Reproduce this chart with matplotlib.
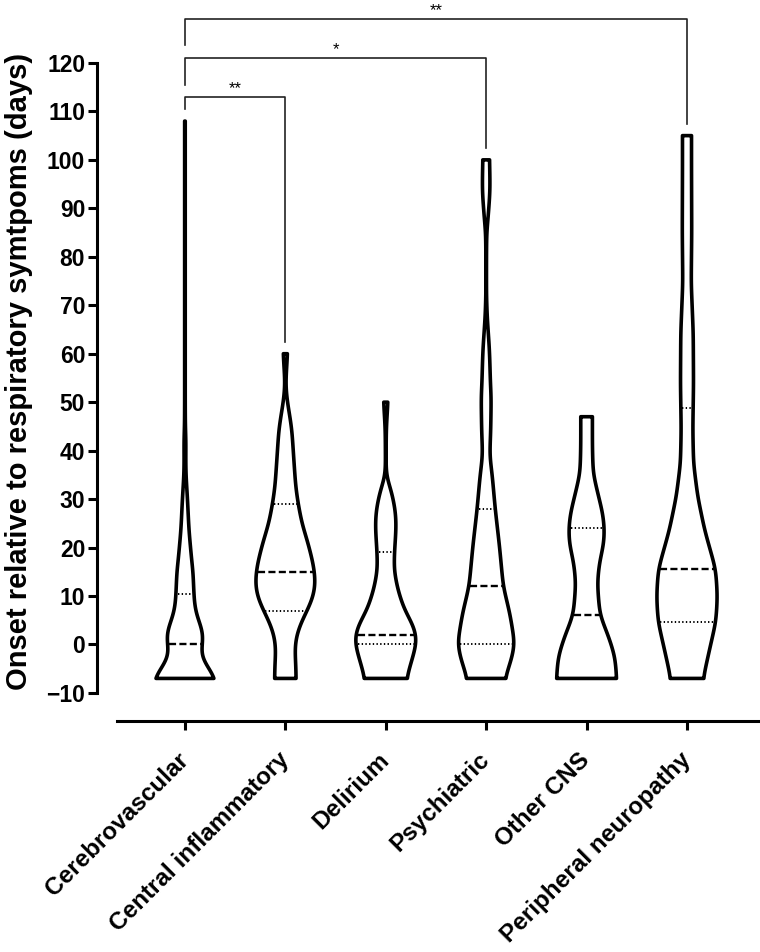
import numpy as np
import matplotlib.pyplot as plt

plt.rcParams['font.family'] = ['Liberation Sans', 'DejaVu Sans']

groups = ['Cerebrovascular', 'Central inflammatory', 'Delirium',
          'Psychiatric', 'Other CNS', 'Peripheral neuropathy']
medians = [0, 15, 2, 12, 6, 15.5]
q1 = [-7, 7, 0, 0, -7, 4.7]
q3 = [10.5, 29, 19, 28, 24, 48.7]

# density outline: onset (days) and violin half width
cereb_y = [-7, -5.3, -3.2, -1.5, 0.2, 2.0, 3.7, 5.7, 7.8, 10.6, 15.4, 16.7, 23.6, 30.5, 35, 38, 42, 45, 50, 108]
cereb_w = [0.31, 0.253, 0.173, 0.154, 0.177, 0.187, 0.163, 0.12, 0.097, 0.089, 0.08, 0.07, 0.04, 0.024, 0.01, 0.008, 0.01, 0.004, 0.003, 0.003]

central_y = [-7, -4, -1.1, 1.6, 4.4, 7.1, 9.9, 12.6, 15, 16.8, 20.9, 25, 29.1, 32.6, 37.4, 44.3, 47.7, 50, 53.5, 57, 60]
central_w = [0.107, 0.104, 0.094, 0.107, 0.153, 0.22, 0.28, 0.30, 0.29, 0.276, 0.226, 0.165, 0.127, 0.103, 0.087, 0.065, 0.04, 0.02, 0.003, 0.012, 0.022]

delir_y = [-7, -2.5, 0.1, 2.1, 4.4, 7.1, 11.3, 15.4, 19.2, 22.3, 25, 27.8, 31.9, 34.6, 37.4, 44.3, 47, 50]
delir_w = [0.206, 0.27, 0.306, 0.306, 0.264, 0.186, 0.12, 0.082, 0.087, 0.098, 0.104, 0.095, 0.054, 0.005, 0.003, 0.005, 0.012, 0.022]

psych_y = [-7, -3, 0.1, 6.4, 12, 20.2, 28, 35, 39, 44, 51, 54, 58, 61, 67.6, 72, 80, 85, 88.3, 93.4, 97, 100]
psych_w = [0.186, 0.253, 0.286, 0.236, 0.17, 0.133, 0.09, 0.06, 0.035, 0.045, 0.05, 0.042, 0.037, 0.032, 0.01, 0.003, 0.003, 0.005, 0.02, 0.038, 0.037, 0.033]

other_y = [-7, -2.5, 1.6, 6.1, 12.6, 16.8, 20.9, 24, 27.1, 30.5, 35.3, 40.8, 47]
other_w = [0.30, 0.283, 0.22, 0.132, 0.107, 0.127, 0.173, 0.178, 0.161, 0.12, 0.065, 0.058, 0.058]

periph_y = [-7, -0.45, 4.7, 9.9, 15.5, 23.6, 30.5, 37.4, 44.3, 53.9, 64.3, 74.6, 85, 98.6, 105]
periph_w = [0.161, 0.231, 0.288, 0.303, 0.286, 0.176, 0.107, 0.065, 0.058, 0.065, 0.062, 0.042, 0.047, 0.045, 0.045]

profiles = [(cereb_y, cereb_w), (central_y, central_w), (delir_y, delir_w),
            (psych_y, psych_w), (other_y, other_w), (periph_y, periph_w)]


def smooth_outline(ys, ws, sigma=1.6):
    # linear interpolation of the read points, then a gaussian smoothing (sigma in days)
    step = 0.1
    yy = np.arange(ys[0], ys[-1] + step / 2, step)
    w = np.interp(yy, ys, ws)
    n = int(3 * sigma / step)
    k = np.exp(-0.5 * (np.arange(-n, n + 1) * step / sigma) ** 2)
    k = k / k.sum()
    wp = np.concatenate([np.full(n, w[0]), w, np.full(n, w[-1])])
    return yy, np.convolve(wp, k, mode='valid')


fig = plt.figure(figsize=(7.6, 9.52), dpi=100)
ax = fig.add_axes([0.1539, 0.2721, 0.8461, 0.6618])

for i, (ys, ws) in enumerate(profiles):
    yy, w = smooth_outline(ys, ws)
    xs = np.concatenate([i - w, (i + w)[::-1]])
    ys2 = np.concatenate([yy, yy[::-1]])
    ax.fill(xs, ys2, facecolor='white', edgecolor='black', lw=2.6, joinstyle='round', zorder=2)
    # median (dashed) and quartiles (dotted)
    hw = np.interp(medians[i], yy, w) - 0.014
    ax.plot([i - hw, i + hw], [medians[i], medians[i]], color='black', lw=1.7,
            linestyle=(0, (3.0, 1.4)), zorder=3)
    for q in (q1[i], q3[i]):
        hw = np.interp(q, yy, w) - 0.016
        if hw > 0 and q > -7:
            ax.plot([i - hw, i + hw], [q, q], color='black', lw=1.4,
                    linestyle=(0, (0.7, 1.2)), zorder=3)

# significance brackets
brackets = [(0, 1, 112.9, 110.5, 62.4, '**'),
            (0, 3, 121, 115.5, 102.5, '*'),
            (0, 5, 129, 123.6, 107.4, '**')]
for a, b, h, yl, yr, lab in brackets:
    ax.plot([a, a, b, b], [yl, h, h, yr], color='#222222', lw=1.2, clip_on=False, zorder=1)
    ax.text((a + b) / 2, h + 0.2, lab, ha='center', va='bottom', fontsize=12, clip_on=False)

# spines first (set_position resets the ticks)
for s in ['top', 'right']:
    ax.spines[s].set_visible(False)
ax.spines['left'].set_position(('outward', 14.4))
ax.spines['bottom'].set_position(('outward', 20.2))
ax.spines['left'].set_linewidth(2.2)
ax.spines['bottom'].set_linewidth(2.2)

ax.set_xlim(-0.677, 5.727)
ax.set_ylim(-10, 120)
ax.tick_params(axis='y', labelsize=16.5, length=6.5, width=2.2, pad=2)
ax.tick_params(axis='x', length=6.5, width=2.2, pad=19)
ax.set_yticks(np.arange(-10, 121, 10))
for t in ax.get_yticklabels():
    t.set_fontweight('bold')
ax.set_xticks(range(len(groups)))
ax.set_xticklabels(groups, rotation=45, ha='right', va='center', rotation_mode='anchor',
                   fontsize=17.5, fontweight='bold')

ax.set_ylabel('Onset relative to respiratory symtpoms (days)', fontsize=21, fontweight='bold')
ax.yaxis.set_label_coords(-0.131, 0.51)

fig.savefig('out.png', dpi=100)
